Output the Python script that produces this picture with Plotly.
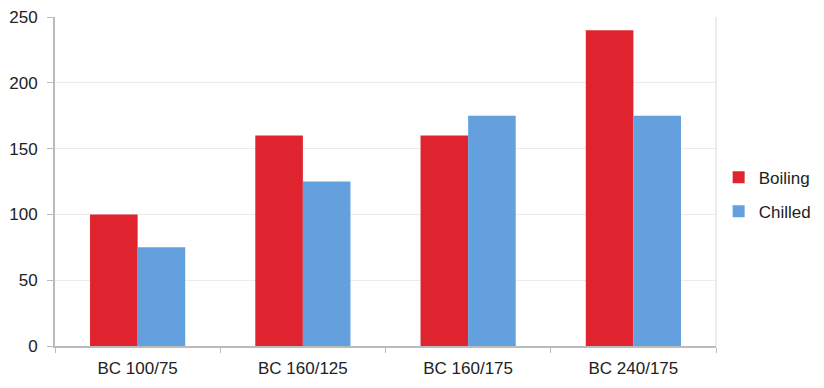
import plotly.graph_objects as go

categories = ["BC 100/75", "BC 160/125", "BC 160/175", "BC 240/175"]
boiling = [100, 160, 160, 240]
chilled = [75, 125, 175, 175]
y_ticks = [0, 50, 100, 150, 200, 250]

RED = "#E0242F"
BLUE = "#64A0DE"
FONT = "Liberation Sans, Arial, Helvetica, sans-serif"
TXT = "#222222"

fig = go.Figure()
fig.add_trace(go.Bar(name="Boiling", x=categories, y=boiling, legendgroup="a",
                     marker=dict(color=RED, line=dict(width=0))))
fig.add_trace(go.Bar(name="Chilled", x=categories, y=chilled, legendgroup="b",
                     marker=dict(color=BLUE, line=dict(width=0))))

fig.update_layout(
    width=824, height=388,
    margin=dict(l=55, r=108, t=17, b=42, autoexpand=False),
    paper_bgcolor="white", plot_bgcolor="white",
    barmode="group", bargap=0.424, bargroupgap=0,
    font=dict(family=FONT, size=17, color=TXT),
    showlegend=True,
    legend=dict(x=1.004, y=0.46, xanchor="left", yanchor="middle",
                font=dict(size=17, color=TXT), tracegroupgap=9,
                itemwidth=30, bgcolor="rgba(0,0,0,0)"),
    xaxis=dict(showline=True, linecolor="#BBBBBB", linewidth=2,
               ticks="outside", tickson="boundaries", ticklen=5, tickcolor="#BBBBBB",
               tickwidth=1, showgrid=False, tickfont=dict(size=17, color=TXT),
               ticklabelstandoff=6),
    yaxis=dict(range=[0, 250], tickvals=y_ticks, showline=True, linecolor="#BBBBBB",
               linewidth=2, ticks="outside", ticklen=6, tickcolor="#BBBBBB", tickwidth=1,
               showgrid=True, gridcolor="#EBEBEB", gridwidth=1, zeroline=False,
               tickfont=dict(size=17, color=TXT), ticklabelstandoff=6),
)
fig.add_shape(type="line", xref="paper", yref="paper", x0=1, x1=1, y0=0, y1=1,
              line=dict(color="#E6E6E6", width=1.5), layer="below")

fig.write_html("out.html", config={"displayModeBar": False},
               post_script="document.body.style.margin='0';")
